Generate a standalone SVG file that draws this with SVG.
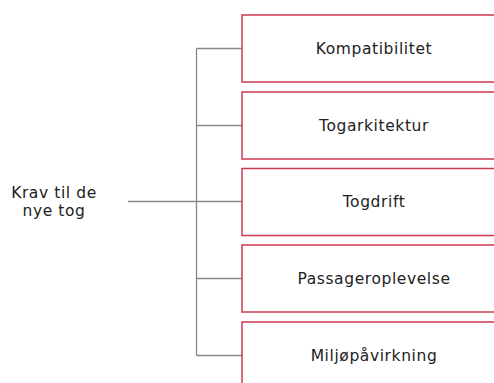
<svg xmlns="http://www.w3.org/2000/svg" width="494" height="383" viewBox="0 0 494 383">
  <style>
    .box { fill: #ffffff; stroke: #cc3a52; stroke-width: 1.5; }
    .lbl { font-family: "DejaVu Sans", "Liberation Sans", sans-serif; font-size: 15.5px; letter-spacing: 0.6px; fill: #222222; text-anchor: middle; }
    .conn { fill: none; stroke: #888888; stroke-width: 1.3; }
  </style>
  <rect width="494" height="383" fill="#ffffff"/>

  <!-- connectors -->
  <g id="connectors">
    <line class="conn" x1="128" y1="201.5" x2="242" y2="201.5"/>
    <line class="conn" x1="196.5" y1="48.5" x2="196.5" y2="355.5"/>
    <line class="conn" x1="196.5" y1="48.5" x2="242" y2="48.5"/>
    <line class="conn" x1="196.5" y1="125.5" x2="242" y2="125.5"/>
    <line class="conn" x1="196.5" y1="278.5" x2="242" y2="278.5"/>
    <line class="conn" x1="196.5" y1="355.5" x2="242" y2="355.5"/>
  </g>

  <!-- root -->
  <g id="root">
    <text class="lbl" x="54" y="197.5">Krav til de</text>
    <text class="lbl" x="54" y="215.5">nye tog</text>
  </g>

  <!-- requirement categories -->
  <g id="kompatibilitet">
    <rect class="box" x="242" y="15" width="270" height="67"/>
    <text class="lbl" x="374" y="53.5">Kompatibilitet</text>
  </g>
  <g id="togarkitektur">
    <rect class="box" x="242" y="92" width="270" height="67"/>
    <text class="lbl" x="374" y="130.5">Togarkitektur</text>
  </g>
  <g id="togdrift">
    <rect class="box" x="242" y="168.5" width="270" height="67"/>
    <text class="lbl" x="374" y="207">Togdrift</text>
  </g>
  <g id="passageroplevelse">
    <rect class="box" x="242" y="245" width="270" height="67"/>
    <text class="lbl" x="374" y="283.5">Passageroplevelse</text>
  </g>
  <g id="miljopavirkning">
    <rect class="box" x="242" y="322" width="270" height="67"/>
    <text class="lbl" x="374" y="360.5">Miljøpåvirkning</text>
  </g>
</svg>
